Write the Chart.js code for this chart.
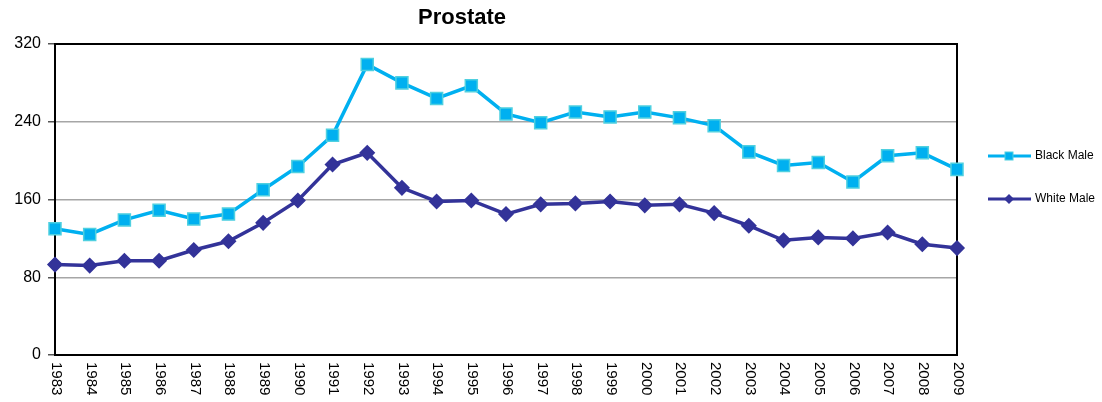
<!DOCTYPE html>
<html>
<head>
<meta charset="utf-8">
<script src="https://cdn.jsdelivr.net/npm/chart.js@4"></script>
<style>
  html, body { margin: 0; padding: 0; background: #fff; }
  #wrap { width: 1102px; height: 402px; }
</style>
</head>
<body>
<div id="wrap"><canvas id="chart" width="1102" height="402"></canvas></div>
<script>
// data
const years = ['1983','1984','1985','1986','1987','1988','1989','1990','1991','1992','1993','1994','1995',
  '1996','1997','1998','1999','2000','2001','2002','2003','2004','2005','2006','2007','2008','2009'];
const blackMale = [130, 124, 139, 149, 140, 145, 170, 194, 226, 299, 280, 264, 277,
  248, 239, 250, 245, 250, 244, 236, 209, 195, 198, 178, 205, 208, 191];
const whiteMale = [93, 92, 97, 97, 108, 117, 136, 159, 196, 208, 172, 158, 159,
  145, 155, 156, 158, 154, 155, 146, 133, 118, 121, 120, 126, 114, 110];
const yTicks = [0, 80, 160, 240, 320];

const BLUE = '#00B0F0';
const NAVY = '#333399';

// title, box, rotated year labels and legend drawn by hand
const extras = {
  id: 'extras',
  beforeDatasetsDraw(chart) {
    const { ctx, chartArea: a } = chart;
    ctx.save();
    ctx.strokeStyle = '#000';
    ctx.lineWidth = 2;
    ctx.strokeRect(a.left, a.top, a.right - a.left, a.bottom - a.top);
    ctx.restore();
  },
  afterDraw(chart) {
    const { ctx } = chart;
    const x = chart.scales.x;
    ctx.save();
    ctx.fillStyle = '#000';
    ctx.font = 'bold 22px Arial, "Liberation Sans", sans-serif';
    ctx.textAlign = 'center';
    ctx.textBaseline = 'middle';
    ctx.fillText('Prostate', 462, 18);

    ctx.font = '15px Arial, "Liberation Sans", sans-serif';
    ctx.textAlign = 'left';
    years.forEach((y, i) => {
      const px = x.getPixelForValue(i);
      ctx.save();
      ctx.translate(px + 1, 362);
      ctx.rotate(Math.PI / 2);
      ctx.fillText(y, 0, 0);
      ctx.restore();
    });

    // legend
    const items = [
      { label: 'Black Male', color: BLUE, y: 156, style: 'rect' },
      { label: 'White Male', color: NAVY, y: 199, style: 'diamond' }
    ];
    ctx.font = '12px Arial, "Liberation Sans", sans-serif';
    ctx.textBaseline = 'middle';
    items.forEach(it => {
      ctx.strokeStyle = it.color;
      ctx.lineWidth = 3;
      ctx.beginPath();
      ctx.moveTo(988, it.y);
      ctx.lineTo(1031, it.y);
      ctx.stroke();
      ctx.fillStyle = it.color;
      if (it.style === 'rect') {
        ctx.fillRect(1005, it.y - 4, 8, 8);
        ctx.strokeStyle = '#4fd0e0';
        ctx.lineWidth = 1;
        ctx.strokeRect(1005, it.y - 4, 8, 8);
      } else {
        ctx.beginPath();
        ctx.moveTo(1009, it.y - 5);
        ctx.lineTo(1014, it.y);
        ctx.lineTo(1009, it.y + 5);
        ctx.lineTo(1004, it.y);
        ctx.closePath();
        ctx.fill();
      }
      ctx.fillStyle = '#000';
      ctx.fillText(it.label, 1035, it.y);
    });
    ctx.restore();
  }
};

new Chart(document.getElementById('chart'), {
  type: 'line',
  data: {
    labels: years,
    datasets: [
      {
        label: 'Black Male',
        data: blackMale,
        borderColor: BLUE,
        backgroundColor: BLUE,
        borderWidth: 3.5,
        pointStyle: 'rect',
        pointRadius: 8.5,
        pointBorderColor: '#4fd0e0',
        pointBorderWidth: 1.5,
        pointBackgroundColor: BLUE,
        tension: 0,
        clip: false
      },
      {
        label: 'White Male',
        data: whiteMale,
        borderColor: NAVY,
        backgroundColor: NAVY,
        borderWidth: 3.5,
        pointStyle: 'rectRot',
        pointRadius: 7,
        pointBorderColor: NAVY,
        pointBorderWidth: 1.5,
        pointBackgroundColor: NAVY,
        tension: 0,
        clip: false
      }
    ]
  },
  options: {
    responsive: false,
    animation: false,
    layout: { padding: { top: 44, right: 145, left: 0, bottom: 0 } },
    plugins: {
      legend: { display: false },
      title: { display: false },
      tooltip: { enabled: false }
    },
    scales: {
      x: {
        offset: false,
        grid: { display: false },
        border: { display: false },
        ticks: { display: false },
        afterFit(scale) { scale.height = 47; }
      },
      y: {
        min: 0,
        max: 320,
        afterBuildTicks(scale) { scale.ticks = yTicks.map(v => ({ value: v })); },
        grid: { color: '#A6A6A6', lineWidth: 1.5, tickLength: 7, tickColor: '#555' },
        border: { display: false },
        ticks: {
          color: '#000',
          padding: 7,
          font: { family: 'Arial, "Liberation Sans", sans-serif', size: 16 }
        },
        afterFit(scale) { scale.width = 55; }
      }
    }
  },
  plugins: [extras]
});
</script>
</body>
</html>
